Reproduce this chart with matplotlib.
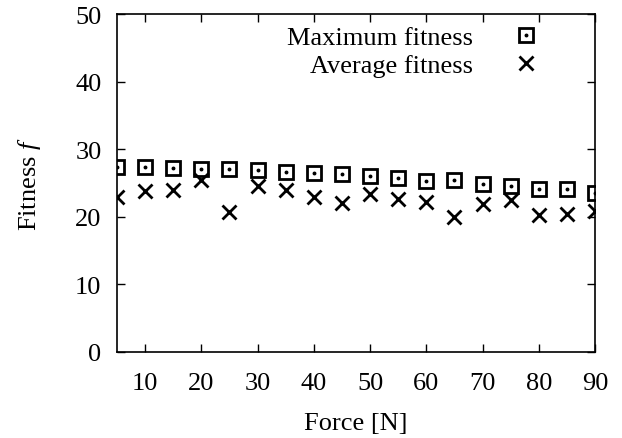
import matplotlib
matplotlib.use("Agg")
import matplotlib.pyplot as plt

force = [5, 10, 15, 20, 25, 30, 35, 40, 45, 50, 55, 60, 65, 70, 75, 80, 85, 90]
max_fitness = [27.35, 27.3, 27.2, 27.05, 27.0, 26.9, 26.7, 26.5, 26.3, 26.0, 25.8,
               25.3, 25.4, 24.9, 24.6, 24.1, 24.1, 23.5]
avg_fitness = [22.9, 23.8, 24.0, 25.4, 20.7, 24.5, 23.9, 22.9, 22.1, 23.3, 22.6,
               22.2, 20.0, 21.9, 22.5, 20.2, 20.4, 20.8]
xticks = [10, 20, 30, 40, 50, 60, 70, 80, 90]
yticks = [0, 10, 20, 30, 40, 50]

plt.rcParams['font.family'] = ['Liberation Serif', 'DejaVu Serif']
plt.rcParams['mathtext.fontset'] = 'custom'
plt.rcParams['mathtext.it'] = 'Liberation Serif:italic'
plt.rcParams['mathtext.rm'] = 'Liberation Serif'

fs = 19
W, H = 622, 439
fig = plt.figure(figsize=(W / 100, H / 100), dpi=100)
L, R, T, B = 117, 595, 15, 353
ax = fig.add_axes([L / W, 1 - B / H, (R - L) / W, (B - T) / H])

sq, = ax.plot(force, max_fitness, linestyle='none', marker='s', markersize=10,
              markerfacecolor='none', markeredgecolor='black', markeredgewidth=2)
dot, = ax.plot(force, max_fitness, linestyle='none', marker='o', markersize=1.8,
               color='black')
xs, = ax.plot(force, avg_fitness, linestyle='none', marker='x', markersize=10,
              color='black', markeredgewidth=2)

ax.set_xlim(5, 90)
ax.set_ylim(0, 50)
ax.set_xticks(xticks)
ax.set_yticks(yticks)
ax.tick_params(direction='in', length=6, width=1, top=True, right=True,
               labelsize=fs, colors='black')
ax.tick_params(axis='x', pad=14.5)
ax.tick_params(axis='y', pad=11.2)
for s in ax.spines.values():
    s.set_linewidth(1.2)

ax.set_xlabel('Force [N]', fontsize=fs, labelpad=13)
ax.set_ylabel(r'Fitness $f$', fontsize=fs, labelpad=23)

ax.legend([(sq, dot), xs], ['Maximum fitness', 'Average fitness'],
          loc='upper right', bbox_to_anchor=((539 - L) / (R - L), 1 - (26.3 - T) / (B - T)),
          frameon=False, markerfirst=False, fontsize=fs, handlelength=1.0,
          handletextpad=1.5, borderpad=0, borderaxespad=0, labelspacing=0.18)

fig.savefig('out.png', dpi=100)
